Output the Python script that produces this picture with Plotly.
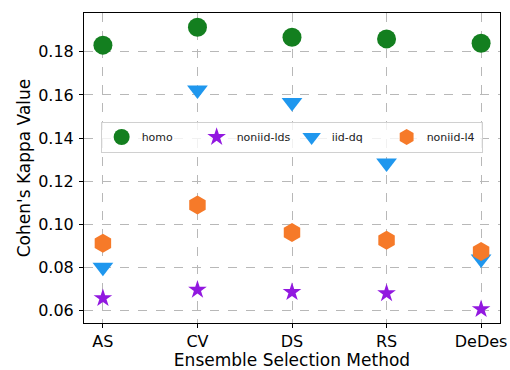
import plotly.graph_objects as go

methods = ["AS", "CV", "DS", "RS", "DeDes"]
homo = [0.1831, 0.1914, 0.1868, 0.1860, 0.1840]
noniid_lds = [0.0658, 0.0697, 0.0686, 0.0681, 0.0607]
iid_dq = [0.0802, 0.1623, 0.1565, 0.1285, 0.0840]
noniid_l4 = [0.0913, 0.1090, 0.0962, 0.0927, 0.0874]
y_ticks = [0.06, 0.08, 0.10, 0.12, 0.14, 0.16, 0.18]

x_idx = list(range(len(methods)))

series = [
    ("homo", homo, "circle", 19, "#137f1f"),
    ("noniid-lds", noniid_lds, "star", 14, "#9218e0"),
    ("iid-dq", iid_dq, "triangle-down", 18, "#1f97ee"),
    ("noniid-l4", noniid_l4, "hexagon", 19, "#f67a29"),
]

fig = go.Figure()
for name, vals, sym, sz, col in series:
    fig.add_trace(go.Scatter(
        x=x_idx, y=vals, mode="markers", name=name,
        marker=dict(symbol=sym, size=sz, color=col, line=dict(width=0)),
    ))

font = "DejaVu Sans"
fig.update_layout(
    width=510, height=370,
    margin=dict(l=84, r=10, t=13, b=47, autoexpand=False),
    plot_bgcolor="white", paper_bgcolor="white",
    font=dict(family=font, size=16, color="black"),
    showlegend=True,
    legend=dict(
        orientation="h",
        x=0.04, y=0.6, xanchor="left", yanchor="middle",
        bgcolor="rgba(255,255,255,0.8)",
        bordercolor="#d0d0d0", borderwidth=1,
        font=dict(family=font, size=11, color="#222222"),
        itemsizing="trace",
        entrywidth=50, entrywidthmode="pixels",
    ),
)
fig.update_xaxes(
    range=[-0.2, 4.2],
    tickmode="array", tickvals=x_idx, ticktext=methods,
    showline=True, linecolor="black", linewidth=1, mirror=True,
    ticks="outside", ticklen=4, tickcolor="black",
    showgrid=True, gridcolor="#b8b8b8", griddash="dash", gridwidth=1,
    zeroline=False, automargin=False,
    tickfont=dict(size=16),
    title=dict(text="Ensemble Selection Method", font=dict(size=17), standoff=0),
)
fig.update_yaxes(
    range=[0.0543, 0.198],
    tickmode="array", tickvals=y_ticks, ticktext=[f"{v:.2f}" for v in y_ticks],
    showline=True, linecolor="black", linewidth=1, mirror=True,
    ticks="outside", ticklen=4, tickcolor="black",
    showgrid=True, gridcolor="#b8b8b8", griddash="dash", gridwidth=1,
    zeroline=False, automargin=False,
    tickfont=dict(size=16), ticklabelstandoff=2,
    title=dict(text="Cohen's Kappa Value", font=dict(size=17), standoff=3),
)

fig.write_html(
    "out.html",
    config={"displayModeBar": False},
    post_script="document.body.style.margin='0';document.body.style.overflow='hidden';",
)
